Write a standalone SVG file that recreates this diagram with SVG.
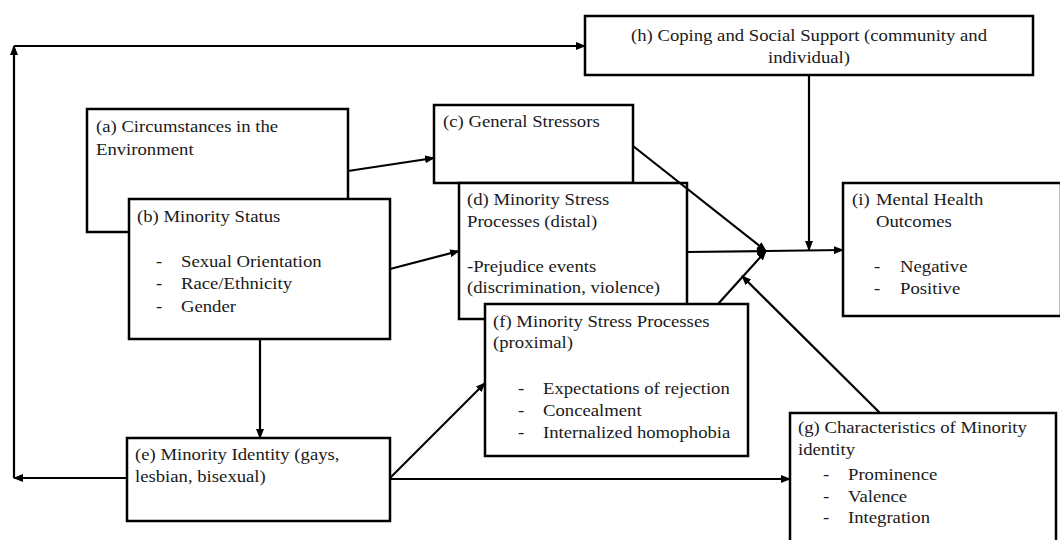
<svg xmlns="http://www.w3.org/2000/svg" width="1060" height="540" viewBox="0 0 1060 540">
<defs>
<style>
.box{fill:#fff;stroke:#000;stroke-width:2.5}
.t{font-family:"Liberation Serif","Times New Roman",serif;font-size:17px;fill:#1a1a1a;transform-box:fill-box;transform-origin:left center;transform:scaleX(1.1)}
.m{text-anchor:middle;transform-origin:center}
.c{fill:none;stroke:#000;stroke-width:2.2}
</style>
<marker id="ah" markerUnits="userSpaceOnUse" markerWidth="10" markerHeight="8" refX="9" refY="4" orient="auto">
<path d="M0,0 L10,4 L0,8 Z" fill="#000"/>
</marker>
</defs>
<rect width="1060" height="540" fill="#fff"/>
<g id="node-h">
<rect class="box" x="585" y="16" width="448" height="59"/>
<text class="t m" x="809" y="41">(h) Coping and Social Support (community and</text>
<text class="t m" x="809" y="63">individual)</text>
</g>
<g id="node-a">
<rect class="box" x="87" y="109" width="261" height="123"/>
<text class="t" x="96" y="132">(a) Circumstances in the</text>
<text class="t" x="96" y="155">Environment</text>
</g>
<g id="node-b">
<rect class="box" x="129" y="199" width="261" height="140"/>
<text class="t" x="137" y="222">(b) Minority Status</text>
<text class="t" x="156" y="267">-</text><text class="t" x="181" y="267">Sexual Orientation</text>
<text class="t" x="156" y="289">-</text><text class="t" x="181" y="289">Race/Ethnicity</text>
<text class="t" x="156" y="312">-</text><text class="t" x="181" y="312">Gender</text>
</g>
<g id="node-c">
<rect class="box" x="434" y="105" width="199" height="78"/>
<text class="t" x="443" y="127">(c) General Stressors</text>
</g>
<g id="node-d">
<rect class="box" x="459" y="183" width="228" height="136"/>
<text class="t" x="467" y="205">(d) Minority Stress</text>
<text class="t" x="467" y="227">Processes (distal)</text>
<text class="t" x="467" y="272">-Prejudice events</text>
<text class="t" x="467" y="293">(discrimination, violence)</text>
</g>
<g id="node-f">
<rect class="box" x="485" y="304" width="263" height="152"/>
<text class="t" x="493" y="327">(f) Minority Stress Processes</text>
<text class="t" x="493" y="348">(proximal)</text>
<text class="t" x="518" y="394">-</text><text class="t" x="543" y="394">Expectations of rejection</text>
<text class="t" x="518" y="416">-</text><text class="t" x="543" y="416">Concealment</text>
<text class="t" x="518" y="438">-</text><text class="t" x="543" y="438">Internalized homophobia</text>
</g>
<g id="node-i">
<rect class="box" x="843" y="183" width="218" height="133"/>
<text class="t" x="852" y="205">(i)</text><text class="t" x="876" y="205">Mental Health</text>
<text class="t" x="876" y="227">Outcomes</text>
<text class="t" x="874" y="272">-</text><text class="t" x="900" y="272">Negative</text>
<text class="t" x="874" y="294">-</text><text class="t" x="900" y="294">Positive</text>
</g>
<g id="node-e">
<rect class="box" x="127" y="438" width="263" height="83"/>
<text class="t" x="135" y="460">(e) Minority Identity (gays,</text>
<text class="t" x="135" y="482">lesbian, bisexual)</text>
</g>
<g id="node-g">
<rect class="box" x="790" y="413" width="266" height="132"/>
<text class="t" x="798" y="433">(g) Characteristics of Minority</text>
<text class="t" x="798" y="455">identity</text>
<text class="t" x="823" y="480">-</text><text class="t" x="848" y="480">Prominence</text>
<text class="t" x="823" y="502">-</text><text class="t" x="848" y="502">Valence</text>
<text class="t" x="823" y="523">-</text><text class="t" x="848" y="523">Integration</text>
</g>
<g id="connectors">
<line class="c" x1="127" y1="478" x2="14" y2="478" marker-end="url(#ah)"/>
<line class="c" x1="14" y1="478" x2="14" y2="46" marker-end="url(#ah)" stroke-width="2.5"/>
<line class="c" x1="14" y1="46" x2="585" y2="46" marker-end="url(#ah)" stroke-width="1.2" stroke="#444"/>
<line class="c" x1="348" y1="171" x2="434" y2="158" marker-end="url(#ah)" stroke-width="2.5"/>
<line class="c" x1="390" y1="269" x2="459" y2="251" marker-end="url(#ah)"/>
<line class="c" x1="260" y1="339" x2="260" y2="438" marker-end="url(#ah)"/>
<line class="c" x1="390" y1="478" x2="485" y2="383" marker-end="url(#ah)"/>
<line class="c" x1="390" y1="479" x2="790" y2="479" marker-end="url(#ah)"/>
<line class="c" x1="633" y1="146" x2="766" y2="251" marker-end="url(#ah)" stroke-width="1.5"/>
<line class="c" x1="687" y1="252" x2="766" y2="251" marker-end="url(#ah)" stroke-width="2.5"/>
<line class="c" x1="718" y1="304" x2="766" y2="251" marker-end="url(#ah)" stroke-width="2.5"/>
<line class="c" x1="766" y1="251" x2="843" y2="250" marker-end="url(#ah)"/>
<line class="c" x1="809" y1="75" x2="809" y2="250" marker-end="url(#ah)"/>
<line class="c" x1="880" y1="413" x2="742" y2="276" marker-end="url(#ah)" stroke-width="2.5"/>
</g>
</svg>
